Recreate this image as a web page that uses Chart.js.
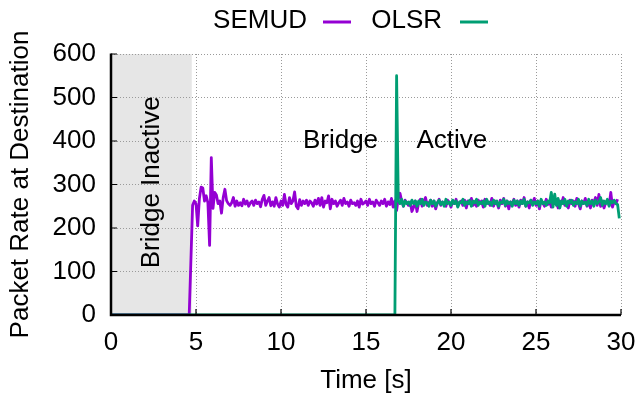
<!DOCTYPE html>
<html>
  <head>
    <title>SEMUD vs OLSR - packet rate</title>
    <script src="https://cdn.jsdelivr.net/npm/chart.js"></script>
    <style>
      body {
        margin: 0;
        background: #ffffff;
      }
    </style>
  </head>
  <body>
    <canvas id="myChart" width="637" height="397"></canvas>

    <script>
      // samples every 0.1 s
      const sampleStep = 0.1;

      // SEMUD, first sample at 4.5 s
      const semudStart = 4.5;
      const semudRate = [
        0, 0, 125, 252, 262,
        256, 205, 268, 294, 292, 262, 274, 258, 160, 362,
        245, 282, 276, 256, 262, 234, 270, 289, 263, 256,
        252, 258, 270, 250, 262, 252, 258, 251, 266, 255,
        262, 250, 258, 262, 252, 264, 256, 260, 249, 266,
        275, 252, 262, 270, 251, 260, 250, 270, 255, 248,
        262, 252, 277, 254, 248, 270, 256, 262, 283, 250,
        244, 265, 252, 262, 256, 264, 252, 262, 258, 250,
        264, 255, 268, 252, 270, 248, 262, 258, 274, 244,
        266, 256, 262, 250, 258, 264, 252, 268, 256, 260,
        250, 264, 256, 258, 252, 262, 248, 266, 255, 258,
        262, 252, 266, 256, 260, 250, 264, 258, 252, 262,
        256, 266, 250, 260, 254, 268, 248, 262, 240, 270,
        280, 262, 250, 264, 258, 252, 260, 238, 248, 262,
        238, 258, 266, 250, 262, 270, 252, 258, 264, 250,
        262, 244, 258, 266, 252, 260, 256, 250, 264, 258,
        248, 262, 256, 266, 250, 258, 262, 252, 264, 246,
        262, 256, 268, 252, 260, 250, 264, 256, 262, 248,
        266, 256, 260, 252, 268, 250, 262, 258, 246, 264,
        256, 268, 250, 262, 244, 260, 256, 266, 252, 262,
        248, 264, 256, 270, 250, 260, 246, 264, 256, 268,
        252, 262, 244, 264, 258, 250, 266, 254, 262, 248,
        268, 256, 260, 246, 262, 256, 270, 252, 260, 246,
        264, 256, 262, 250, 268, 256, 244, 262, 256, 268,
        250, 262, 246, 264, 258, 270, 252, 277, 250, 262,
        246, 258, 264, 252, 282, 248, 262, 256, 266
      ];

      // OLSR, first sample at 16.7 s
      const olsrStart = 16.7;
      const olsrRate = [
        0, 550, 262,
        256, 266, 250, 262, 256, 260, 252, 264, 256, 262,
        250, 262, 256, 266, 252, 260, 258, 250, 264, 256,
        262, 250, 258, 264, 254, 260, 250, 266, 256, 260,
        252, 264, 256, 262, 248, 260, 258, 266, 252, 260,
        256, 264, 250, 262, 258, 266, 252, 260, 256, 262,
        250, 266, 256, 260, 252, 264, 256, 262, 250, 260,
        258, 266, 252, 262, 256, 260, 250, 264, 256, 262,
        252, 262, 256, 266, 250, 260, 258, 264, 252, 260,
        256, 262, 250, 266, 256, 260, 252, 262, 258, 282,
        248, 278, 252, 268, 246, 262, 256, 266, 250, 262,
        258, 264, 252, 260, 256, 266, 250, 262, 256, 260,
        252, 266, 256, 262, 250, 264, 256, 260, 270, 252,
        262, 256, 266, 250, 262, 258, 264, 256, 254, 222
      ];

      const xTicks = [0, 5, 10, 15, 20, 25, 30];
      const yTicks = [0, 100, 200, 300, 400, 500, 600];
      const inactiveEnd = 4.75;

      const FONT = "'Liberation Sans', Arial, sans-serif";
      const PURPLE = "#9400d3";
      const GREEN = "#009e73";

      function toPoints(start, values) {
        const pts = [{ x: 0, y: 0 }];
        values.forEach((v, i) => pts.push({ x: start + i * sampleStep, y: v }));
        return pts;
      }

      const decor = {
        id: "decor",
        beforeDraw(chart) {
          const { ctx, chartArea: a, scales } = chart;
          const x1 = scales.x.getPixelForValue(inactiveEnd);
          ctx.save();
          ctx.fillStyle = "#e6e6e6";
          ctx.fillRect(a.left, a.top, x1 - a.left, a.bottom - a.top);
          ctx.restore();
        },
        afterDatasetsDraw(chart) {
          const { ctx, chartArea: a, scales } = chart;
          ctx.save();
          ctx.strokeStyle = "#000";
          ctx.lineWidth = 1.2;
          ctx.beginPath();
          xTicks.forEach((v) => {
            const px = scales.x.getPixelForValue(v);
            ctx.moveTo(px, a.bottom);
            ctx.lineTo(px, a.bottom - 6);
          });
          yTicks.forEach((v) => {
            const py = scales.y.getPixelForValue(v);
            ctx.moveTo(a.left, py);
            ctx.lineTo(a.left + 6, py);
          });
          ctx.stroke();

          ctx.lineWidth = 2.5;
          ctx.beginPath();
          ctx.moveTo(a.left, a.top - 0.5);
          ctx.lineTo(a.left, a.bottom);
          ctx.lineTo(a.right, a.bottom);
          ctx.stroke();

          // labels inside the plot
          ctx.fillStyle = "#000";
          ctx.font = "26px " + FONT;
          ctx.textAlign = "center";
          ctx.textBaseline = "middle";
          ctx.fillText("Bridge", scales.x.getPixelForValue(13.5), scales.y.getPixelForValue(400));
          ctx.fillText("Active", scales.x.getPixelForValue(20.05), scales.y.getPixelForValue(400));
          ctx.translate(scales.x.getPixelForValue(2.43), scales.y.getPixelForValue(305));
          ctx.rotate(-Math.PI / 2);
          ctx.fillText("Bridge Inactive", 0, 0);
          ctx.restore();

          // key
          ctx.save();
          ctx.font = "26px " + FONT;
          ctx.fillStyle = "#000";
          ctx.textAlign = "right";
          ctx.textBaseline = "middle";
          ctx.lineWidth = 3;
          const key = [
            { ds: chart.data.datasets[1], textRight: 307, x0: 323, x1: 351 },
            { ds: chart.data.datasets[0], textRight: 442, x0: 460, x1: 488 },
          ];
          key.forEach((k) => {
            ctx.fillText(k.ds.label, k.textRight, 21);
            ctx.strokeStyle = k.ds.borderColor;
            ctx.beginPath();
            ctx.moveTo(k.x0, 22);
            ctx.lineTo(k.x1, 22);
            ctx.stroke();
          });
          ctx.restore();
        },
      };

      const ctx = document.getElementById("myChart").getContext("2d");
      new Chart(ctx, {
        type: "line",
        data: {
          datasets: [
            {
              label: "OLSR",
              data: toPoints(olsrStart, olsrRate),
              borderColor: GREEN,
              borderWidth: 2.8,
              borderJoinStyle: "round",
              pointRadius: 0,
              order: 0,
            },
            {
              label: "SEMUD",
              data: toPoints(semudStart, semudRate),
              borderColor: PURPLE,
              borderWidth: 2.8,
              borderJoinStyle: "round",
              pointRadius: 0,
              order: 1,
            },
          ],
        },
        plugins: [decor],
        options: {
          responsive: false,
          animation: false,
          events: [],
          layout: {
            autoPadding: false,
            padding: { top: 54, right: 16, left: 0, bottom: 0 },
          },
          plugins: {
            legend: { display: false },
            tooltip: { enabled: false },
          },
          scales: {
            x: {
              type: "linear",
              min: 0,
              max: 30,
              afterBuildTicks: (s) => {
                s.ticks = xTicks.map((v) => ({ value: v }));
              },
              afterFit: (s) => {
                s.height = 82;
                s.paddingLeft = 0;
                s.paddingRight = 0;
              },
              ticks: {
                color: "#000",
                font: { family: FONT, size: 26 },
                padding: 12,
                maxRotation: 0,
              },
              grid: { color: "#9a9a9a", lineWidth: 1, drawTicks: false },
              border: { display: false, dash: [1, 2] },
              title: {
                display: true,
                text: "Time [s]",
                color: "#000",
                font: { family: FONT, size: 26 },
                padding: { top: 0, bottom: 1 },
              },
            },
            y: {
              min: 0,
              max: 600,
              afterBuildTicks: (s) => {
                s.ticks = yTicks.map((v) => ({ value: v }));
              },
              afterFit: (s) => {
                s.width = 111;
                s.paddingTop = 0;
                s.paddingBottom = 0;
              },
              ticks: {
                color: "#000",
                font: { family: FONT, size: 26 },
                padding: 15,
              },
              grid: { color: "#9a9a9a", lineWidth: 1, drawTicks: false },
              border: { display: false, dash: [1, 2] },
              title: {
                display: true,
                text: "Packet Rate at Destination",
                color: "#000",
                font: { family: FONT, size: 26 },
                padding: { top: 5, bottom: 0 },
              },
            },
          },
        },
      });
    </script>
  </body>
</html>
